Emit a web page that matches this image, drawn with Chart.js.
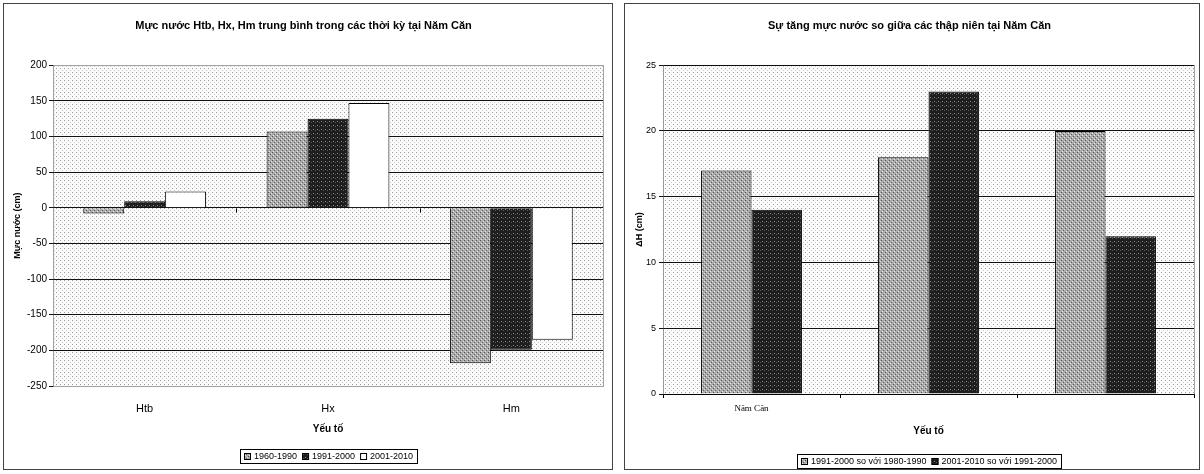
<!DOCTYPE html>
<html lang="vi">
<head>
<meta charset="UTF-8">
<title>Mực nước Năm Căn</title>
<script src="https://cdn.jsdelivr.net/npm/chart.js"></script>
<style>
  body { margin: 0; background: #fff; width: 1204px; height: 474px; position: relative; overflow: hidden; }
  .box { position: absolute; top: 3px; height: 467px; border: 1px solid #444; box-sizing: border-box; background: #fff; }
  #boxA { left: 3px; width: 610px; }
  #boxB { left: 624px; width: 576px; }
</style>
</head>
<body>
<div class="box" id="boxA"><canvas id="chartA"></canvas></div>
<div class="box" id="boxB"><canvas id="chartB"></canvas></div>
<script>
// left chart: Htb, Hx, Hm by period
const catsA = ['Htb', 'Hx', 'Hm'];
const namesA = ['1960-1990', '1991-2000', '2001-2010'];
const valsA1 = [-8, 107, -218];
const valsA2 = [9, 125, -199];
const valsA3 = [23, 147, -185];

// right chart: rise between decades
const catsB = ['Năm Căn', '', ''];
const namesB = ['1991-2000 so với 1980-1990', '2001-2010 so với 1991-2000'];
const valsB1 = [17, 18, 20];
const valsB2 = [14, 23, 12];

const FONT = '"Liberation Sans", Arial, sans-serif';
Chart.defaults.font.family = FONT;
Chart.defaults.color = '#000';

// small repeating dot textures to mimic the scanned stipple
function stipple(ctx, bg, dots) {
  const c = document.createElement('canvas');
  c.width = 4; c.height = 4;
  const g = c.getContext('2d');
  g.fillStyle = bg;
  g.fillRect(0, 0, 4, 4);
  dots.forEach(([x, y, col]) => { g.fillStyle = col; g.fillRect(x, y, 1, 1); });
  return ctx.createPattern(c, 'repeat');
}
const plotFill = ctx => stipple(ctx, '#fbfbfb', [[0, 0, '#9a9a9a'], [2, 2, '#c8c8c8']]);
const lightFill = ctx => stipple(ctx, '#ababab', [[0, 0, '#505050'], [2, 2, '#606060'], [1, 3, '#e8e8e8'], [3, 1, '#dedede']]);
const darkFill = ctx => stipple(ctx, '#1e1e1e', [[1, 1, '#8a8a8a'], [3, 2, '#5a5a5a']]);

// plot background, dotted frame, zero-line ticks and boxed legend
const frame = {
  id: 'frame',
  beforeDraw(chart, args, opts) {
    const { ctx, chartArea: a } = chart;
    ctx.save();
    ctx.fillStyle = opts.bg;
    ctx.fillRect(a.left, a.top, a.right - a.left, a.bottom - a.top);
    ctx.restore();
  },
  afterDraw(chart, args, opts) {
    const { ctx, chartArea: a } = chart;
    const L = Math.round(a.left) + 0.5, R = Math.round(a.right) + 0.5;
    const T = Math.round(a.top) + 0.5, B = Math.round(a.bottom) + 0.5;
    ctx.save();
    ctx.strokeStyle = '#444';
    ctx.lineWidth = 1;
    ctx.setLineDash([1, 1]);
    ctx.beginPath();
    ctx.moveTo(L, T); ctx.lineTo(L, B);
    ctx.moveTo(R, T); ctx.lineTo(R, B);
    if (opts.dottedTopBottom) {
      ctx.moveTo(L, T); ctx.lineTo(R, T);
      ctx.moveTo(L, B); ctx.lineTo(R, B);
    }
    ctx.stroke();
    ctx.setLineDash([]);

    if (opts.zeroTicks) {
      const xs = chart.scales.x, y0 = Math.round(chart.scales.y.getPixelForValue(0)) + 0.5;
      ctx.strokeStyle = '#000';
      ctx.beginPath();
      for (let i = 0; i < xs.ticks.length - 1; i++) {
        const x = Math.round((xs.getPixelForTick(i) + xs.getPixelForTick(i + 1)) / 2) + 0.5;
        ctx.moveTo(x, y0); ctx.lineTo(x, y0 + 4);
      }
      ctx.stroke();
    }

    const sets = chart.data.datasets;
    ctx.font = opts.font;
    const box = 7, gap = 3, sep = 5, pad = 4;
    const widths = sets.map(d => box + gap + ctx.measureText(d.label).width);
    const total = Math.round(widths.reduce((s, w) => s + w, 0) + sep * (sets.length - 1) + pad * 2);
    let x = Math.round((a.left + a.right) / 2 - total / 2);
    const y = opts.legendY;
    ctx.strokeStyle = '#000';
    ctx.strokeRect(x + 0.5, y - 6.5, total, 14);
    x += pad;
    ctx.textBaseline = 'middle';
    sets.forEach((d, i) => {
      ctx.fillStyle = d.backgroundColor;
      ctx.fillRect(x, y - 3, box, box);
      ctx.strokeRect(x + 0.5, y - 2.5, box - 1, box - 1);
      ctx.fillStyle = '#000';
      ctx.fillText(d.label, x + box + gap, y + 1);
      x += widths[i] + sep;
    });
    ctx.restore();
  }
};

const ctxA = document.getElementById('chartA').getContext('2d');
new Chart(ctxA, {
  type: 'bar',
  data: {
    labels: catsA,
    datasets: [
      { label: namesA[0], data: valsA1, backgroundColor: lightFill(ctxA), borderColor: '#000', borderWidth: 1 },
      { label: namesA[1], data: valsA2, backgroundColor: darkFill(ctxA), borderColor: '#000', borderWidth: 1 },
      { label: namesA[2], data: valsA3, backgroundColor: '#ffffff', borderColor: '#000', borderWidth: 1 }
    ]
  },
  options: {
    responsive: true,
    maintainAspectRatio: false,
    animation: false,
    layout: { padding: { left: 0, right: 9, top: 0, bottom: 34 } },
    datasets: { bar: { categoryPercentage: 0.67, barPercentage: 1 } },
    plugins: {
      legend: { display: false },
      tooltip: { enabled: false },
      title: {
        display: true,
        text: 'Mực nước Htb, Hx, Hm trung bình trong các thời kỳ tại Năm Căn',
        color: '#000',
        font: { size: 11, weight: 'bold' },
        padding: { top: 15, bottom: 33 }
      },
      frame: { bg: plotFill(ctxA), font: '9px ' + FONT, legendY: 452, dottedTopBottom: true, zeroTicks: true }
    },
    scales: {
      x: {
        grid: { display: false },
        border: { display: false },
        ticks: { color: '#000', font: { size: 11 }, padding: 8 },
        title: { display: true, text: 'Yếu tố', color: '#000', font: { size: 10, weight: 'bold' }, padding: { top: 8, bottom: 0 } },
        afterFit: s => { s.height = 49; }
      },
      y: {
        min: -250,
        max: 200,
        ticks: { stepSize: 50, color: '#000', font: { size: 10 }, padding: 2 },
        grid: {
          color: c => (c.tick && (c.tick.value === -250 || c.tick.value === 200)) ? 'rgba(0,0,0,0)' : '#111',
          tickColor: '#111',
          tickLength: 4
        },
        border: { display: false },
        title: { display: true, text: 'Mực nước (cm)', color: '#000', font: { size: 9, weight: 'bold' }, padding: { top: 8, bottom: 0 } },
        afterFit: s => { s.width = 49; }
      }
    }
  },
  plugins: [frame]
});

const ctxB = document.getElementById('chartB').getContext('2d');
new Chart(ctxB, {
  type: 'bar',
  data: {
    labels: catsB,
    datasets: [
      { label: namesB[0], data: valsB1, backgroundColor: lightFill(ctxB), borderColor: '#000', borderWidth: 1 },
      { label: namesB[1], data: valsB2, backgroundColor: darkFill(ctxB), borderColor: '#000', borderWidth: 1 }
    ]
  },
  options: {
    responsive: true,
    maintainAspectRatio: false,
    animation: false,
    layout: { padding: { left: 0, right: 5, top: 0, bottom: 32 } },
    datasets: { bar: { categoryPercentage: 0.57, barPercentage: 1 } },
    plugins: {
      legend: { display: false },
      tooltip: { enabled: false },
      title: {
        display: true,
        text: 'Sự tăng mực nước so giữa các thập niên tại Năm Căn',
        color: '#000',
        font: { size: 11, weight: 'bold' },
        padding: { top: 15, bottom: 33 }
      },
      frame: { bg: plotFill(ctxB), font: '9px ' + FONT, legendY: 457, dottedTopBottom: false, zeroTicks: false }
    },
    scales: {
      x: {
        grid: { display: true, drawOnChartArea: false, color: '#000', tickLength: 4 },
        border: { display: true, color: '#000' },
        ticks: { color: '#000', font: { size: 9, family: '"Liberation Serif", "Times New Roman", serif' }, padding: 5 },
        title: { display: true, text: 'Yếu tố', color: '#000', font: { size: 10, weight: 'bold' }, padding: { top: 11, bottom: 0 } },
        afterFit: s => { s.height = 43; }
      },
      y: {
        min: 0,
        max: 25,
        ticks: { stepSize: 5, color: '#000', font: { size: 9 }, padding: 3 },
        grid: { color: '#111', tickLength: 4 },
        border: { display: false },
        title: { display: true, text: 'ΔH (cm)', color: '#000', font: { size: 9, weight: 'bold' }, padding: { top: 9, bottom: 0 } },
        afterFit: s => { s.width = 38; }
      }
    }
  },
  plugins: [frame]
});
</script>
</body>
</html>
